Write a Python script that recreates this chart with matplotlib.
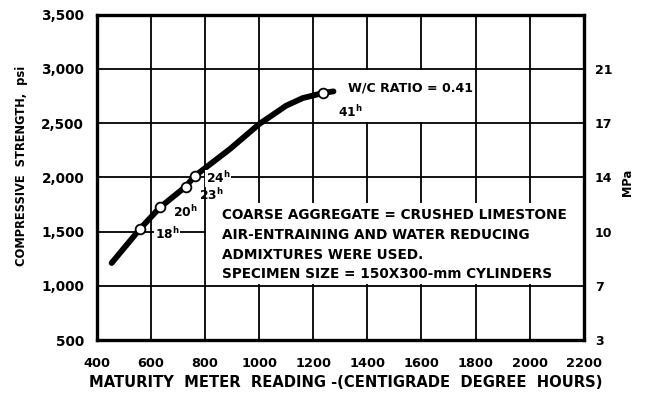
''' maturity meter reading vs compressive strength '''
import matplotlib
matplotlib.use('Agg')
import matplotlib.pyplot as plt
from matplotlib.patches import Rectangle

plt.rcParams['font.family'] = 'DejaVu Sans'
plt.rcParams['font.weight'] = 'bold'
plt.rcParams['axes.labelweight'] = 'bold'
plt.rcParams['mathtext.fontset'] = 'custom'
plt.rcParams['mathtext.rm'] = 'DejaVu Sans:bold'
plt.rcParams['mathtext.it'] = 'DejaVu Sans:bold'

# strength-maturity curve (centigrade degree hours, psi)
curve_x = [455, 560, 634, 729, 763, 892, 1000, 1100, 1161, 1238, 1275]
curve_y = [1210, 1525, 1723, 1915, 2013, 2260, 2490, 2660, 2730, 2778, 2792]

# test ages marked on the curve
age_labels = ['18', '20', '23', '24', '41']
age_x = [560, 634, 729, 763, 1238]
age_y = [1525, 1723, 1915, 2013, 2778]

x_ticks = [400, 600, 800, 1000, 1200, 1400, 1600, 1800, 2000, 2200]
psi_ticks = [500, 1000, 1500, 2000, 2500, 3000, 3500]
psi_labels = ['500', '1,000', '1,500', '2,000', '2,500', '3,000', '3,500']
mpa_labels = ['3', '7', '10', '14', '17', '21']

note_lines = [
    'COARSE AGGREGATE = CRUSHED LIMESTONE',
    'AIR-ENTRAINING AND WATER REDUCING',
    'ADMIXTURES WERE USED.',
    'SPECIMEN SIZE = 150X300-mm CYLINDERS',
]

fig = plt.figure(figsize=(6.45, 3.94), dpi=100)
ax = fig.add_axes([0.150, 0.137, 0.755, 0.826])

ax.set_xlim(400, 2200)
ax.set_ylim(500, 3500)
ax.set_xticks(x_ticks)
ax.set_yticks(psi_ticks)
ax.set_yticklabels(psi_labels)
ax.tick_params(length=0)
ax.tick_params(axis='x', pad=12, labelsize=9.3)
ax.tick_params(axis='y', pad=9, labelsize=9.8)
ax.set_axisbelow(True)
ax.grid(color='black', linewidth=1.3)
for s in ax.spines.values():
    s.set_linewidth(2.4)

# blank panels behind the note and the w/c label
ax.add_patch(Rectangle((803, 1012), 1395, 750, facecolor='white',
                       edgecolor='none', zorder=1))
ax.add_patch(Rectangle((1208, 2512), 590, 476, facecolor='white',
                       edgecolor='none', zorder=1))

ax.plot(curve_x, curve_y, color='black', linewidth=4.2,
        solid_capstyle='round', zorder=3)
ax.plot(age_x, age_y, linestyle='none', marker='o', markersize=7,
        markerfacecolor='white', markeredgecolor='black',
        markeredgewidth=1.3, zorder=4)

boxed = dict(facecolor='white', edgecolor='none', pad=0.3)
sup = r'$^{\mathrm{h}}$'
ax.text(614, 1478, age_labels[0] + sup, fontsize=8.8, va='center', bbox=boxed, zorder=5)
ax.text(681, 1680, age_labels[1] + sup, fontsize=8.8, va='center', bbox=boxed, zorder=5)
ax.text(803, 1990, age_labels[3] + sup, fontsize=8.8, va='center', bbox=boxed, zorder=5)
ax.text(777, 1840, age_labels[2] + sup, fontsize=8.8, va='center', zorder=6)
ax.text(1291, 2602, age_labels[4] + sup, fontsize=8.8, va='center', zorder=5)
ax.text(1328, 2824, 'W/C RATIO = 0.41', fontsize=9.1, va='center', zorder=5)

for i, line in enumerate(note_lines):
    ax.text(862, [1653, 1468, 1284, 1109][i], line, fontsize=9.8,
            va='center', ha='left', zorder=5)

ax.set_xlabel('MATURITY  METER  READING -(CENTIGRADE  DEGREE  HOURS)',
              fontsize=10.6, va='center')
ax.xaxis.set_label_coords(0.511, -0.132)
ax.set_ylabel('COMPRESSIVE  STRENGTH,  psi', fontsize=8.3, va='center')
ax.yaxis.set_label_coords(-0.154, 0.535)

# MPa scale on the right
ax2 = ax.twinx()
ax2.set_ylim(ax.get_ylim())
ax2.set_yticks(psi_ticks[:-1])
ax2.set_yticklabels(mpa_labels)
ax2.tick_params(length=0, labelsize=9, pad=8)
ax2.set_ylabel('MPa', fontsize=8.3, va='center')
ax2.yaxis.set_label_coords(1.09, 0.483)
for s in ax2.spines.values():
    s.set_visible(False)

fig.savefig('out.png', dpi=100)
